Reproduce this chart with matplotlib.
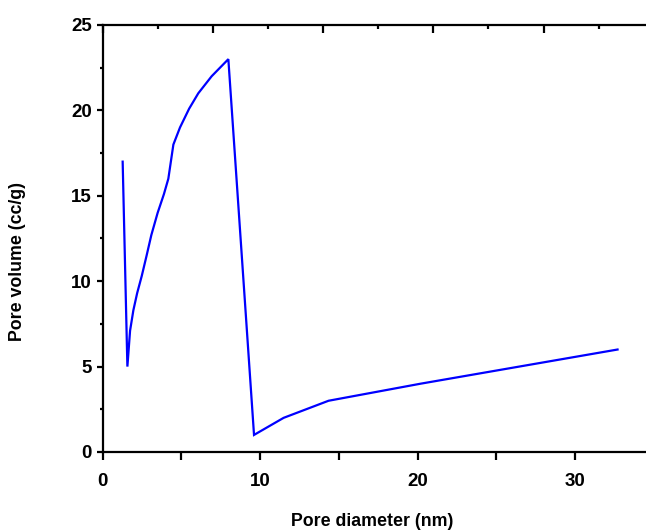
import matplotlib
matplotlib.use("Agg")
import matplotlib.pyplot as plt
from matplotlib.ticker import MultipleLocator, NullFormatter

# Data
pore_diameter = [1.28, 1.58, 1.75, 1.96, 2.2, 2.49, 2.8, 3.1, 3.5, 3.9, 4.18,
                 4.5, 4.92, 5.5, 6.08, 6.93, 7.99, 9.62, 11.5, 14.35, 20.2, 32.7]
pore_volume = [17.0, 5.0, 7.1, 8.3, 9.3, 10.3, 11.5, 12.7, 14.0, 15.1, 16.0,
               18.0, 19.0, 20.1, 21.0, 22.0, 23.0, 1.0, 2.0, 3.0, 4.0, 6.0]
x_ticks = [0, 10, 20, 30]
y_ticks = [0, 5, 10, 15, 20, 25]

plt.rcParams['font.family'] = ['Liberation Sans', 'DejaVu Sans']
plt.rcParams['font.weight'] = 'bold'

W, H = 646, 532
fig = plt.figure(figsize=(W / 100, H / 100), dpi=100)
left_px, right_px, top_px, bot_px = 102.5, 650, 25, 452
ax = fig.add_axes([left_px / W, (H - bot_px) / H, (right_px - left_px) / W, (bot_px - top_px) / H])

ax.plot(pore_diameter, pore_volume, color='#0000ff', lw=1.6, solid_joinstyle='miter')

ax.set_xlim(0, 34.76)
ax.set_ylim(0, 25)

for s in ['left', 'bottom', 'top']:
    ax.spines[s].set_linewidth(1.6)
ax.spines['right'].set_visible(False)

ax.set_xticks(x_ticks)
ax.xaxis.set_minor_locator(MultipleLocator(5))
ax.set_yticks(y_ticks)
ax.yaxis.set_minor_locator(MultipleLocator(2.5))
ax.tick_params(axis='x', which='major', direction='out', length=6, width=1.6,
               labelsize=13.5, pad=9)
ax.tick_params(axis='x', which='minor', direction='out', length=5.5, width=1.6)
ax.tick_params(axis='y', which='major', direction='out', length=4.5, width=1.6,
               labelsize=13.5, pad=3)
ax.tick_params(axis='y', which='minor', direction='out', length=2.5, width=1.6)
for lab in ax.get_xticklabels() + ax.get_yticklabels():
    lab.set_fontweight('bold')

# Top axis ticks (inward)
top = ax.twiny()
top.set_xlim(ax.get_xlim())
top.xaxis.set_major_locator(MultipleLocator(7))
top.xaxis.set_minor_locator(MultipleLocator(3.5))
top.xaxis.set_major_formatter(NullFormatter())
top.tick_params(axis='x', which='major', direction='in', length=6, width=1.6)
top.tick_params(axis='x', which='minor', direction='in', length=3, width=1.6)
for s in top.spines.values():
    s.set_visible(False)

# Right axis ticks (inward)
rt = ax.twinx()
rt.set_ylim(ax.get_ylim())
rt.set_yticks(y_ticks)
rt.yaxis.set_major_formatter(NullFormatter())
rt.tick_params(axis='y', which='major', direction='in', length=3, width=1.6)
for s in rt.spines.values():
    s.set_visible(False)

fig.text(372 / W, 1 - 521 / H, 'Pore diameter (nm)', ha='center', va='center',
         fontsize=12.8, fontweight='bold')
fig.text(18 / W, 1 - 262 / H, 'Pore volume (cc/g)', ha='center', va='center',
         rotation=90, fontsize=12.8, fontweight='bold')

fig.savefig('out.png', dpi=100)
